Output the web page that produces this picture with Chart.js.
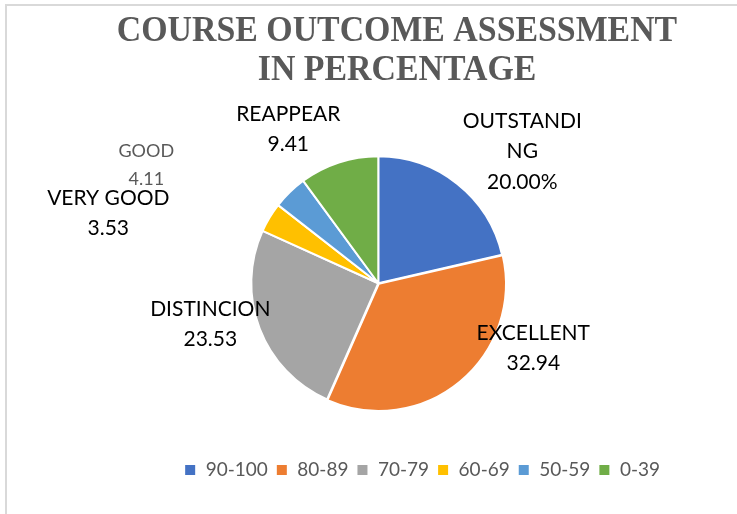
<!DOCTYPE html>
<html>
<head>
<meta charset="utf-8">
<script src="https://cdn.jsdelivr.net/npm/chart.js@4.4.1/dist/chart.umd.min.js"></script>
<style>
  html, body { margin: 0; padding: 0; background: #fff; }
  #wrap { position: relative; width: 737px; height: 514px; overflow: hidden; }
  #frame {
    position: absolute; left: 5px; top: 4px; width: 800px; height: 600px;
    border-top: 2px solid #d9d9d9; border-left: 2px solid #d9d9d9;
  }
  canvas { position: absolute; left: 0; top: 0; }
</style>
</head>
<body>
<div id="wrap">
  <div id="frame"></div>
  <canvas id="pie-chart" width="737" height="514"></canvas>
</div>
<script>
// ranges shown in the legend
const ranges = ["90-100", "80-89", "70-79", "60-69", "50-59", "0-39"];
// grade names used in the slice labels
const gradeNames = ["OUTSTANDI\nNG", "EXCELLENT", "DISTINCION", "VERY GOOD", "GOOD", "REAPPEAR"];
// percentage of students in each range
const percentages = [20.0, 32.94, 23.53, 3.53, 4.11, 9.41];

const sliceColors = ["#4472C4", "#ED7D31", "#A5A5A5", "#FFC000", "#5B9BD5", "#70AD47"];

const titleLines = ["COURSE OUTCOME ASSESSMENT", "IN PERCENTAGE"];

// where each label block sits, relative to the pie centre
const labelOffsets = [
  [144, -132],
  [155, 65],
  [-168, 41],
  [-270, -70],
  [-232, -118],
  [-90, -154],
];

const formatValue = (v, i) => (i === 0 ? v.toFixed(2) + "%" : v.toFixed(2));

// title drawn by hand so it can be narrowed a bit like the original
const titlePlugin = {
  id: "bigTitle",
  afterDraw(chart) {
    const ctx = chart.ctx;
    ctx.save();
    ctx.fillStyle = "#595959";
    ctx.font = "bold 36px 'Liberation Serif', 'Times New Roman', serif";
    ctx.textAlign = "center";
    ctx.textBaseline = "middle";
    titleLines.forEach((line, i) => {
      ctx.save();
      ctx.translate(397, 32 + i * 39);
      ctx.scale(0.94, 1);
      ctx.fillText(line, 0, 0);
      ctx.restore();
    });
    ctx.restore();
  },
};

// data labels next to the slices
const sliceLabelPlugin = {
  id: "sliceLabels",
  afterDatasetsDraw(chart) {
    const ctx = chart.ctx;
    const meta = chart.getDatasetMeta(0);
    ctx.save();
    ctx.textAlign = "center";
    ctx.textBaseline = "middle";
    meta.data.forEach((arc, i) => {
      const small = i === 4;
      const lines = gradeNames[i].split("\n").concat([formatValue(percentages[i], i)]);
      const gap = small ? 28 : 30.5;
      ctx.font = (small ? "18px" : "21px") + " Lato, 'Open Sans', sans-serif";
      ctx.fillStyle = small ? "#595959" : "#000000";
      const cx = arc.x + labelOffsets[i][0];
      const cy = arc.y + labelOffsets[i][1];
      const y0 = cy - ((lines.length - 1) * gap) / 2;
      lines.forEach((t, j) => {
        ctx.fillText(t, cx, y0 + j * gap);
      });
    });
    ctx.restore();
  },
};

const canvas = document.getElementById("pie-chart");
new Chart(canvas, {
  type: "pie",
  data: {
    labels: ranges,
    datasets: [
      {
        data: percentages,
        backgroundColor: sliceColors,
        borderColor: "#ffffff",
        borderWidth: 2,
        offset: [0, 3, 0, 0, 0, 0],
        radius: 127,
      },
    ],
  },
  options: {
    responsive: false,
    animation: false,
    layout: {
      padding: { top: 114, bottom: 24.5, left: 88.6, right: 69 },
    },
    plugins: {
      title: { display: false },
      tooltip: { enabled: false },
      legend: {
        position: "bottom",
        align: "end",
        labels: {
          boxWidth: 12,
          boxHeight: 12,
          padding: 8,
          color: "#595959",
          font: { family: "Lato, 'Open Sans', sans-serif", size: 19 },
        },
      },
    },
  },
  plugins: [titlePlugin, sliceLabelPlugin],
});
</script>
</body>
</html>
